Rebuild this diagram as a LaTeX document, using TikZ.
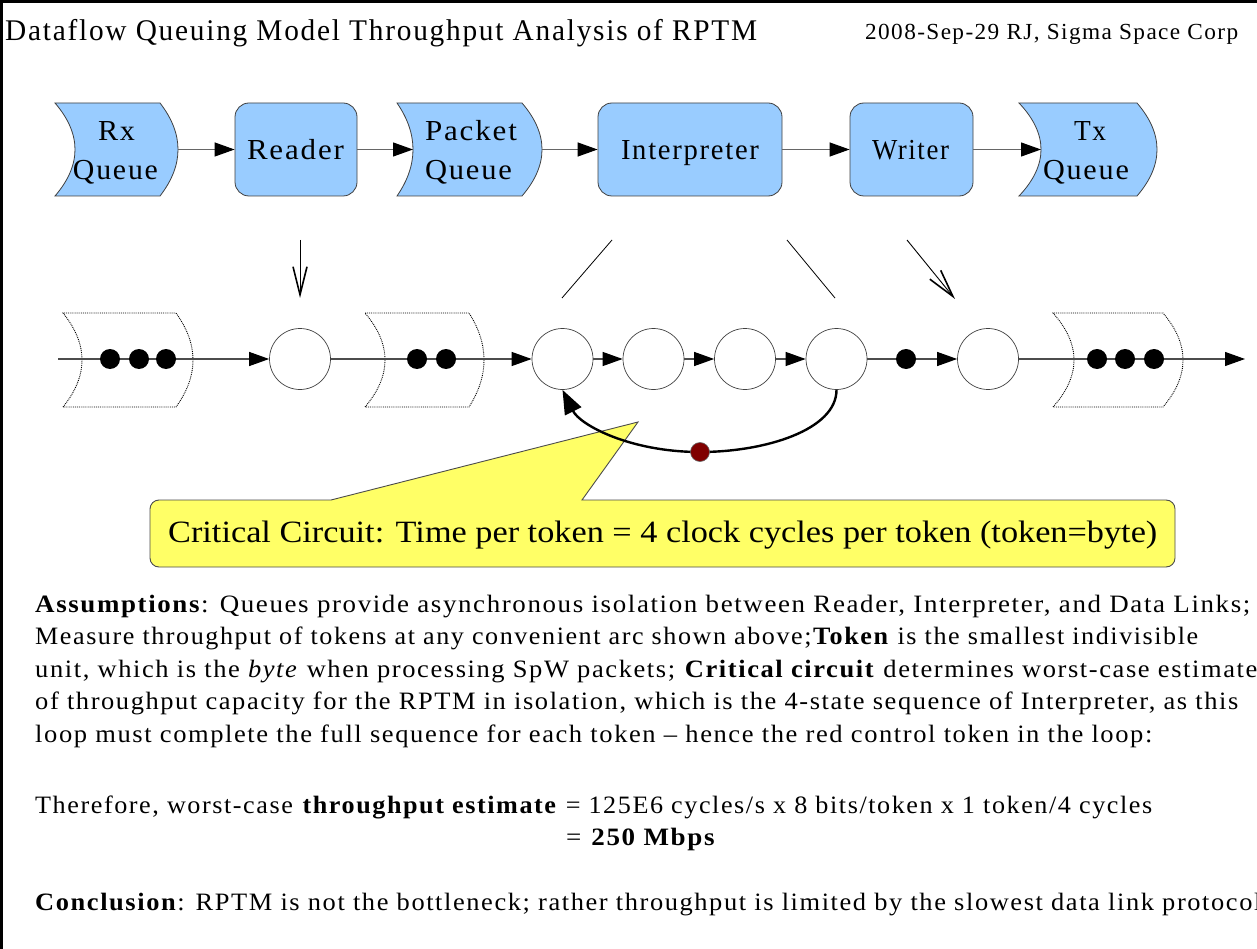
\documentclass[tikz,border=0pt]{standalone}
\usepackage{fontspec}
\usepackage{graphicx}
\setmainfont{Liberation Serif}
\usetikzlibrary{arrows.meta}
\definecolor{qblue}{HTML}{99CCFF}
\definecolor{cally}{HTML}{FFFF66}
\definecolor{tokred}{HTML}{800000}
\newcommand\fitw[2]{\resizebox{#1}{\height}{#2}}
\newcommand\fs[1]{\fontsize{#1}{#1}\selectfont}
\newcommand\lsp{\addfontfeatures{LetterSpace=6}}
% style, L, T, R, B, d, b
\newcommand\qshape[7]{%
  \path[#1] (#2,#5) .. controls ({#2+4*#6/3},{#5-(#5-#3)/3}) and ({#2+4*#6/3},{#3+(#5-#3)/3}) .. (#2,#3)
   -- ({#4-#7},#3) .. controls ({#4-#7+4*#7/3},{#3+(#5-#3)/3}) and ({#4-#7+4*#7/3},{#5-(#5-#3)/3}) .. ({#4-#7},#5) -- cycle;}
\begin{document}
\begin{tikzpicture}[x=1pt,y=-1pt,
  qfill/.style={fill=qblue,draw=black!75,line width=0.8pt},
  qdot/.style={draw=black,densely dotted,line width=0.9pt},
  qanchor/.style={inner sep=0pt,outer sep=0pt},
  proc/.style={draw=black!75,fill=qblue,rounded corners=14pt,line width=0.8pt,inner sep=0pt},
  lbl/.style={anchor=base,inner sep=0pt,font=\fs{29}\lsp},
  tarrow/.style={draw=black!60,line width=1.2pt,-{Triangle[length=20pt,width=14pt,color=black]}},
  marrow/.style={draw=black!70,line width=1.1pt,-{Triangle[length=20pt,width=14pt,color=black]}},
  circ/.style={circle,draw=black!75,fill=white,minimum size=61pt,inner sep=0pt,line width=0.7pt},
  tok/.style={circle,fill=black,minimum size=20pt,inner sep=0pt},
  redtok/.style={circle,fill=tokred,draw=black!60,minimum size=19pt,inner sep=0pt,line width=0.6pt},
  vline/.style={draw=black,line width=0.8pt},
  varrow/.style={draw=black,line width=0.9pt,-{Straight Barb[length=28pt,width=14pt,line width=1.6pt]}},
  loopar/.style={draw=black,line width=2.4pt,-{Triangle[length=24pt,width=18pt]}},
  callout/.style={fill=cally,draw=black!70,line width=0.9pt},
  body/.style={anchor=base west,inner sep=0pt,font=\fs{25}\lsp}]
\useasboundingbox (0,0) rectangle (1257,949);
\fill[white] (0,0) rectangle (1257,949);
\draw[line width=3pt] (1.5,960) -- (1.5,1.5) -- (1270,1.5);

% header
\node[anchor=base west,inner sep=0pt,font=\fs{30}\lsp] (title) at (5,41) {\fitw{752pt}{Dataflow Queuing Model Throughput Analysis of RPTM}};
\node[anchor=base west,inner sep=0pt,font=\fs{23}\lsp] (date) at (865,40) {\fitw{373pt}{2008-Sep-29 RJ, Sigma Space Corp}};

% top row
\qshape{qfill}{55}{103}{178}{196}{20}{18}
\qshape{qfill}{397}{103}{542}{196}{16}{20}
\qshape{qfill}{1019}{103}{1157}{196}{22}{20}
\node[qanchor,minimum width=103pt,minimum height=93pt] (rxq) at (126.5,149.5) {};
\node[qanchor,minimum width=129pt,minimum height=93pt] (pq) at (477.5,149.5) {};
\node[qanchor,minimum width=116pt,minimum height=93pt] (txq) at (1099,149.5) {};
\node[proc,minimum width=122pt,minimum height=93pt] (reader) at (296,149.5) {};
\node[proc,minimum width=184pt,minimum height=93pt] (interp) at (690,149.5) {};
\node[proc,minimum width=123pt,minimum height=93pt] (writer) at (911.5,149.5) {};

\node[lbl] (rxl1) at (116.5,141) {\fitw{37pt}{Rx}};
\node[lbl] (rxl2) at (115.5,180) {\fitw{85pt}{Queue}};
\node[lbl] (rdl) at (295.5,160) {\fitw{97pt}{Reader}};
\node[lbl] (pql1) at (471,141) {\fitw{92pt}{Packet}};
\node[lbl] (pql2) at (468.5,180) {\fitw{87pt}{Queue}};
\node[lbl] (inl) at (690,160) {\fitw{138pt}{Interpreter}};
\node[lbl] (wrl) at (910.5,160) {\fitw{77pt}{Writer}};
\node[lbl] (txl1) at (1090,141) {\fitw{32pt}{Tx}};
\node[lbl] (txl2) at (1086,180) {\fitw{86pt}{Queue}};

\draw[tarrow] (rxq.east) -- (reader.west);
\draw[tarrow] (reader.east) -- (pq.west);
\draw[tarrow] (pq.east) -- (interp.west);
\draw[tarrow] (interp.east) -- (writer.west);
\draw[tarrow] (writer.east) -- (txq.west);

% middle row
\qshape{qdot}{63}{313}{193}{407}{19}{17}
\qshape{qdot}{365}{313}{484}{407}{20}{15}
\qshape{qdot}{1053}{313}{1183}{407}{21}{20}
\node[circ] (c1) at (300,359) {};
\node[circ] (c2) at (562.5,359) {};
\node[circ] (c3) at (653.5,359) {};
\node[circ] (c4) at (745,359) {};
\node[circ] (c5) at (836.5,359) {};
\node[circ] (c6) at (988,359) {};
\coordinate (in) at (58,359);
\coordinate (out) at (1245,359);
\draw[marrow] (in) -- (c1);
\draw[marrow] (c1) -- (c2);
\draw[marrow] (c2) -- (c3);
\draw[marrow] (c3) -- (c4);
\draw[marrow] (c4) -- (c5);
\draw[marrow] (c5) -- (c6);
\draw[marrow] (c6) -- (out);
\node[tok] (ta1) at (110,359) {};
\node[tok] (ta2) at (139,359) {};
\node[tok] (ta3) at (166,359) {};
\node[tok] (tb1) at (417,359) {};
\node[tok] (tb2) at (446,359) {};
\node[tok] (tw) at (906,359) {};
\node[tok] (tc1) at (1097,359) {};
\node[tok] (tc2) at (1125,359) {};
\node[tok] (tc3) at (1154,359) {};

% mapping lines
\coordinate (rd1) at (300,240); \coordinate (rd2) at (300,298);
\coordinate (il1) at (612,240); \coordinate (il2) at (562,298);
\coordinate (ir1) at (787,240); \coordinate (ir2) at (835,298);
\coordinate (wr1) at (907,240); \coordinate (wr2) at (955,299);
\draw[varrow] (rd1) -- (rd2);
\draw[vline] (il1) -- (il2);
\draw[vline] (ir1) -- (ir2);
\draw[varrow] (wr1) -- (wr2);

% callout
\draw[callout] (638,422) -- (582,500) [rounded corners=9pt] -- (1175,500) -- (1175,567) -- (150,567) -- (150,500) [sharp corners] -- (331,500) -- cycle;
\node[anchor=base west,inner sep=0pt,font=\fs{31}] (ctext) at (168,542) {\fitw{989pt}{Critical Circuit: Time per token = 4 clock cycles per token (token=byte)}};

% critical loop
\coordinate (tokc) at (700,452);
\draw[loopar] (c5.south) .. controls (836.5,430) and (765,452) .. (tokc) .. controls (630,452) and (580,425) .. (c2.south);
\node[redtok] (rt) at (tokc) {};

% body text
\node[body] (b1) at (35,612) {\fitw{1215pt}{\textbf{Assumptions}: Queues provide asynchronous isolation between Reader, Interpreter, and Data Links;}};
\node[body] (b2) at (35,644) {\fitw{1163pt}{Measure throughput of tokens at any convenient arc shown above;\textbf{Token} is the smallest indivisible}};
\node[body] (b3) at (35,677) {\fitw{1222pt}{unit, which is the \textit{byte} when processing SpW packets; \textbf{Critical circuit} determines worst-case estimate}};
\node[body] (b4) at (35,709) {\fitw{1203pt}{of throughput capacity for the RPTM in isolation, which is the 4-state sequence of Interpreter, as this}};
\node[body] (b5) at (35,742) {\fitw{1117pt}{loop must complete the full sequence for each token – hence the red control token in the loop:}};
\node[body] (b6) at (35,813) {\fitw{1117pt}{Therefore, worst-case \textbf{throughput estimate} = 125E6 cycles/s x 8 bits/token x 1 token/4 cycles}};
\node[body] (b7) at (566,845) {\fitw{150pt}{= \textbf{250 Mbps}}};
\node[body] (b8) at (35,910) {\fitw{1226pt}{\textbf{Conclusion}: RPTM is not the bottleneck; rather throughput is limited by the slowest data link protocol}};
\end{tikzpicture}
\end{document}
